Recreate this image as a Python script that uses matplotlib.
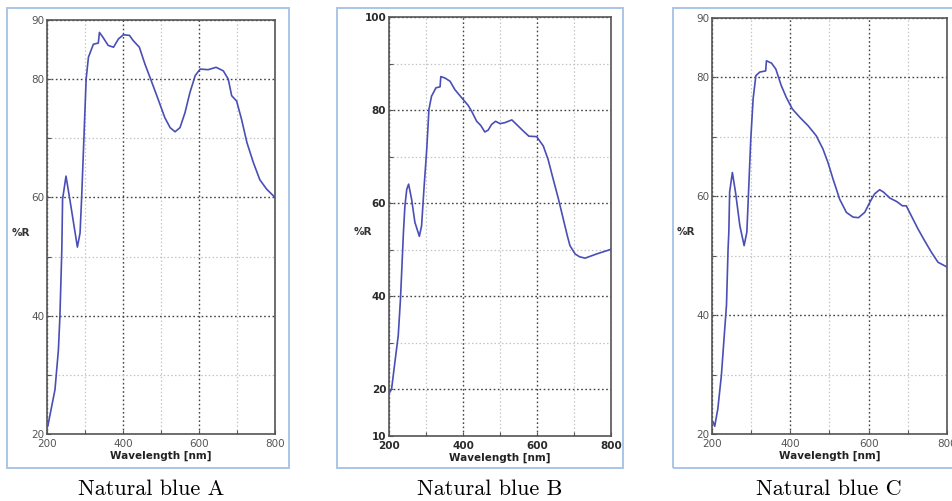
import matplotlib.pyplot as plt
from matplotlib.patches import Rectangle
from matplotlib.ticker import MultipleLocator

# reflectance spectra
wl_a = [200, 202, 221, 230, 234, 239, 241, 250, 260, 280, 287, 291, 296, 303, 309,
        322, 335, 338, 348, 361, 375, 388, 401, 417, 427, 443, 458, 471, 489, 510,
        524, 537, 550, 563, 576, 590, 603, 624, 645, 664, 677, 686, 699, 712, 726,
        743, 760, 778, 800]
r_a = [21.2, 21.3, 27.5, 34.2, 39.9, 51.2, 59.7, 63.6, 59.7, 51.6, 54.0, 59.7, 68.1,
       80.0, 83.7, 85.9, 86.1, 87.9, 87.0, 85.7, 85.4, 86.8, 87.5, 87.4, 86.5, 85.4,
       82.5, 80.3, 77.2, 73.5, 71.8, 71.1, 71.8, 74.3, 77.7, 80.6, 81.7, 81.6, 82.0,
       81.4, 80.0, 77.2, 76.3, 73.2, 69.3, 65.9, 63.0, 61.4, 60.0]

wl_b = [203, 207, 216, 225, 231, 237, 239, 243, 248, 253, 261, 270, 282, 288, 295,
        302, 308, 315, 327, 338, 340, 351, 365, 378, 396, 414, 423, 437, 448, 459,
        468, 477, 488, 500, 513, 532, 545, 563, 578, 599, 617, 630, 644, 658, 671,
        682, 689, 703, 715, 730, 761, 800]
r_b = [19.5, 20.1, 25.9, 31.6, 39.4, 50.1, 53.7, 59.4, 63.0, 64.1, 60.9, 55.9, 52.9,
       55.1, 63.7, 71.6, 80.2, 83.0, 84.8, 85.0, 87.2, 86.9, 86.2, 84.4, 82.7, 81.0,
       79.8, 77.6, 76.7, 75.3, 75.7, 76.9, 77.6, 77.1, 77.3, 77.9, 76.9, 75.5, 74.4,
       74.3, 72.3, 69.4, 65.1, 60.9, 56.6, 53.0, 50.9, 49.1, 48.5, 48.2, 49.1, 50.1]

wl_c = [203, 207, 215, 224, 232, 237, 241, 243, 245, 252, 260, 271, 282, 289, 294,
        299, 305, 312, 322, 337, 339, 352, 363, 377, 390, 405, 424, 445, 466, 483,
        496, 509, 526, 543, 560, 574, 590, 603, 615, 628, 638, 654, 672, 686, 696,
        709, 726, 743, 760, 777, 800]
r_c = [22.0, 21.3, 24.3, 29.9, 37.2, 41.7, 51.1, 54.0, 60.7, 64.0, 60.7, 55.1, 51.7,
       54.0, 61.8, 69.6, 76.4, 80.3, 80.9, 81.1, 82.8, 82.4, 81.4, 78.6, 76.6, 74.7,
       73.3, 71.9, 70.2, 68.0, 65.7, 62.9, 59.5, 57.3, 56.5, 56.4, 57.3, 59.0, 60.4,
       61.1, 60.7, 59.7, 59.1, 58.4, 58.4, 56.7, 54.5, 52.5, 50.6, 48.9, 48.1]

captions = ['Natural blue A', 'Natural blue B', 'Natural blue C']
ylims = [(20, 90), (10, 100), (20, 90)]
yticks = [[20, 40, 60, 80, 90], [10, 20, 40, 60, 80, 100], [20, 40, 60, 80, 90]]
xticks = [200, 400, 600, 800]

W, H = 953, 501
fig = plt.figure(figsize=(W / 100, H / 100), dpi=100)

# axes boxes and outer frames in pixels (left, top, right, bottom)
axes_px = [(47, 20, 275, 434), (389, 17, 611, 436), (712, 18, 947, 434)]
frames_px = [(7, 8, 289, 468), (337, 8, 623, 468), (673, 8, 965, 468)]
caption_x = [151, 490, 829]
tick_col = ['#555555', '#2a2a2a', '#555555']
tick_wt = ['normal', 'bold', 'normal']

line_col = '#4a4eb5'
data = [(wl_a, r_a), (wl_b, r_b), (wl_c, r_c)]

for i in range(3):
    l, t, r, b = frames_px[i]
    fig.patches.append(Rectangle((l / W, 1 - b / H), (r - l) / W, (b - t) / H,
                                 transform=fig.transFigure, fill=False,
                                 edgecolor='#a9c5e6', lw=1.4))
    l, t, r, b = axes_px[i]
    ax = fig.add_axes([l / W, 1 - b / H, (r - l) / W, (b - t) / H])
    wl, refl = data[i]
    ax.plot(wl, refl, color=line_col, lw=1.2, zorder=3)
    ax.set_xlim(200, 800)
    ax.set_ylim(*ylims[i])
    ax.set_xticks(xticks)
    ax.set_yticks(yticks[i])
    ax.xaxis.set_minor_locator(MultipleLocator(100))
    ax.yaxis.set_minor_locator(MultipleLocator(10))
    ax.grid(which='major', color='#444444', ls=(0, (1.2, 1.8)), lw=1.0)
    ax.grid(which='minor', color='#c4c4c4', ls=(0, (1.2, 1.8)), lw=0.9)
    ax.tick_params(which='both', direction='in', length=3, width=0.8,
                   colors='#555555', labelcolor=tick_col[i], labelsize=7.5)
    ax.tick_params(axis='x', pad=3.5)
    ax.tick_params(axis='y', pad=2)
    for lab in ax.get_xticklabels() + ax.get_yticklabels():
        lab.set_fontweight(tick_wt[i])
    for s in ax.spines.values():
        s.set_color('#555555')
        s.set_linewidth(1.2)
    ax.set_xlabel('Wavelength [nm]', fontsize=7.5, fontweight='bold',
                  color='#222222', labelpad=1.5)
    fig.text((l - 26) / W, 1 - ((t + b) / 2 + 6) / H, '%R', fontsize=7.5,
             fontweight='bold', color='#333333', ha='center', va='center')
    fig.text(caption_x[i] / W, 1 - 495 / H, captions[i], family='cmr10',
             fontsize=16, ha='center', va='baseline')

fig.savefig('out.png', dpi=100)
